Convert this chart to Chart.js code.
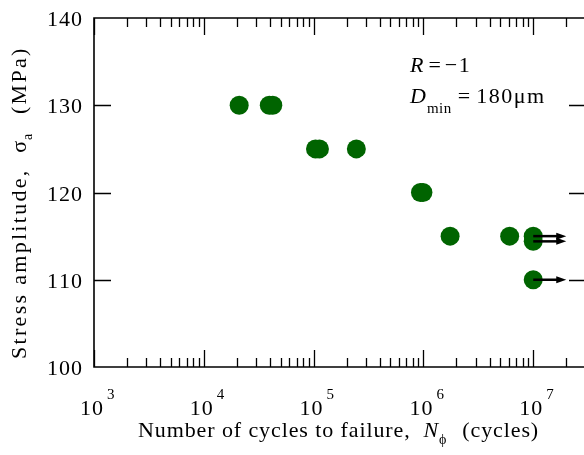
<!DOCTYPE html>
<html>
<head>
<meta charset="utf-8">
<script src="https://cdn.jsdelivr.net/npm/chart.js@4/dist/chart.umd.min.js"></script>
<style>
html,body{margin:0;padding:0;background:#fff;}
#wrap{width:584px;height:455px;position:relative;}
</style>
</head>
<body>
<div id="wrap"><canvas id="c" width="584" height="455"></canvas></div>
<script>
// ---- data ----
const cycles = [2.1e4, 3.95e4, 4.25e4, 1.04e5, 1.13e5, 2.45e5, 9.4e5, 9.9e5, 1.75e6, 6.1e6, 1.0e7, 1.0e7, 1.0e7];
const stress = [130, 130, 130, 125, 125, 125, 120, 120, 115, 115, 115, 114.4, 110];
const runoutStart = [1.0e7, 1.0e7, 1.0e7];
const runoutEnd = [2.0e7, 2.0e7, 2.0e7];
const runoutStress = [115, 114.4, 110];
const xDecades = [3, 4, 5, 6, 7];
const yTicks = [100, 110, 120, 130, 140];

const SERIF = '"Liberation Serif","Times New Roman",serif';

function measure(ctx, s, font, ls) {
  ctx.font = font;
  let w = 0;
  for (const ch of s) w += ctx.measureText(ch).width + (ls || 0);
  return w - (ls || 0);
}
function txt(ctx, s, x, y, font, ls) {
  ctx.font = font;
  ctx.textAlign = 'left';
  let cx = x;
  for (const ch of s) {
    ctx.fillText(ch, cx, y);
    cx += ctx.measureText(ch).width + (ls || 0);
  }
  return cx - x;
}

const axesPlugin = {
  id: 'axesPlugin',
  afterDraw(chart) {
    const ctx = chart.ctx;
    const xs = chart.scales.x, ys = chart.scales.y;
    const ca = chart.chartArea;
    const L = ca.left, R = ca.right, T = ca.top, B = ca.bottom;
    ctx.save();
    // runout arrows
    ctx.strokeStyle = '#000';
    ctx.fillStyle = '#000';
    ctx.lineWidth = 2.5;
    for (let i = 0; i < runoutStress.length; i++) {
      const x0 = xs.getPixelForValue(runoutStart[i]);
      const x1 = xs.getPixelForValue(runoutEnd[i]);
      const y = ys.getPixelForValue(runoutStress[i]);
      ctx.beginPath();
      ctx.moveTo(x0, y);
      ctx.lineTo(x1 - 8, y);
      ctx.stroke();
      ctx.beginPath();
      ctx.moveTo(x1, y);
      ctx.lineTo(x1 - 10, y - 3.5);
      ctx.lineTo(x1 - 10, y + 3.5);
      ctx.closePath();
      ctx.fill();
    }
    // axes frame
    ctx.strokeStyle = '#000';
    ctx.lineWidth = 1.6;
    ctx.beginPath();
    ctx.moveTo(R + 2, T); ctx.lineTo(L, T); ctx.lineTo(L, B); ctx.lineTo(R + 2, B);
    ctx.stroke();
    // x ticks
    ctx.lineWidth = 1.3;
    for (const d of xDecades.concat([8])) {
      for (let m = 1; m <= 9; m++) {
        const v = m * Math.pow(10, d - 1);
        if (v < xs.min || v > xs.max) continue;
        const px = Math.round(xs.getPixelForValue(v)) + 0.5;
        const len = (m === 1) ? 17 : 9;
        ctx.beginPath();
        ctx.moveTo(px, B); ctx.lineTo(px, B - len);
        ctx.moveTo(px, T); ctx.lineTo(px, T + len);
        ctx.stroke();
      }
    }
    // y ticks
    for (const v of yTicks) {
      if (v === 100 || v === 140) continue;
      const py = Math.round(ys.getPixelForValue(v)) + 0.5;
      ctx.beginPath();
      ctx.moveTo(L, py); ctx.lineTo(L + 17, py);
      ctx.moveTo(R, py); ctx.lineTo(R - 15, py);
      ctx.stroke();
    }
    // y tick labels
    ctx.fillStyle = '#000';
    ctx.textBaseline = 'alphabetic';
    const TF = '22px ' + SERIF;
    for (const v of yTicks) {
      const s = String(v);
      const w = measure(ctx, s, TF, 1);
      txt(ctx, s, L - 12 - w, ys.getPixelForValue(v) + 8, TF, 1);
    }
    // x tick labels 10^n
    for (const d of xDecades) {
      const px = xs.getPixelForValue(Math.pow(10, d));
      const start = px - 14;
      const w1 = txt(ctx, '10', start, 415, TF, 1);
      txt(ctx, String(d), start + w1 + 3, 399, '15px ' + SERIF, 0);
    }
    // x title
    let x = 138;
    const by = 437;
    const XLS = 0.9;
    x += txt(ctx, 'Number of cycles to failure,  ', x, by, TF, XLS);
    x += txt(ctx, 'N', x, by, 'italic 22px ' + SERIF, 0) + 1;
    x += txt(ctx, '\u03D5', x, by + 7, '14px ' + SERIF, 0);
    txt(ctx, '  (cycles)', x + 3, by, TF, XLS);
    // y title (rotated)
    ctx.save();
    ctx.translate(26, 359);
    ctx.rotate(-Math.PI / 2);
    let yx = 0;
    const YLS = 2.3;
    yx += txt(ctx, 'Stress amplitude,  ', yx, 0, TF, YLS);
    yx += txt(ctx, '\u03C3', yx, 0, TF, 0) + 1;
    yx += txt(ctx, 'a', yx, 6, '14px ' + SERIF, 0);
    txt(ctx, '  (MPa)', yx + 4, 0, TF, YLS);
    ctx.restore();
    // annotations
    let ax = 410;
    ax += txt(ctx, 'R', ax, 72, 'italic 22px ' + SERIF, 0) + 5;
    ax += txt(ctx, '=', ax, 72, TF, 0) + 4;
    txt(ctx, '\u22121', ax, 72, TF, 1.5);
    ax = 410;
    ax += txt(ctx, 'D', ax, 103, 'italic 22px ' + SERIF, 0) + 1;
    ax += txt(ctx, 'min', ax, 113, '15px ' + SERIF, 0.5) + 6;
    ax += txt(ctx, '=', ax, 103, TF, 0) + 6;
    txt(ctx, '180\u03BCm', ax, 103, TF, 1.5);
    ctx.restore();
  }
};

new Chart(document.getElementById('c'), {
  type: 'scatter',
  data: {
    datasets: [{
      data: cycles.map((c, i) => ({x: c, y: stress[i]})),
      pointRadius: 9.5,
      pointHoverRadius: 9.5,
      pointBackgroundColor: '#006400',
      pointBorderColor: '#006400',
      pointBorderWidth: 0
    }]
  },
  options: {
    responsive: false,
    animation: false,
    events: [],
    layout: { autoPadding: false, padding: { left: 94, top: 18, right: 0, bottom: 88 } },
    plugins: { legend: { display: false }, tooltip: { enabled: false } },
    scales: {
      x: { type: 'logarithmic', min: 1000, max: 2.9e7, bounds: 'data', display: false },
      y: { type: 'linear', min: 100, max: 140, display: false }
    }
  },
  plugins: [axesPlugin]
});
</script>
</body>
</html>
